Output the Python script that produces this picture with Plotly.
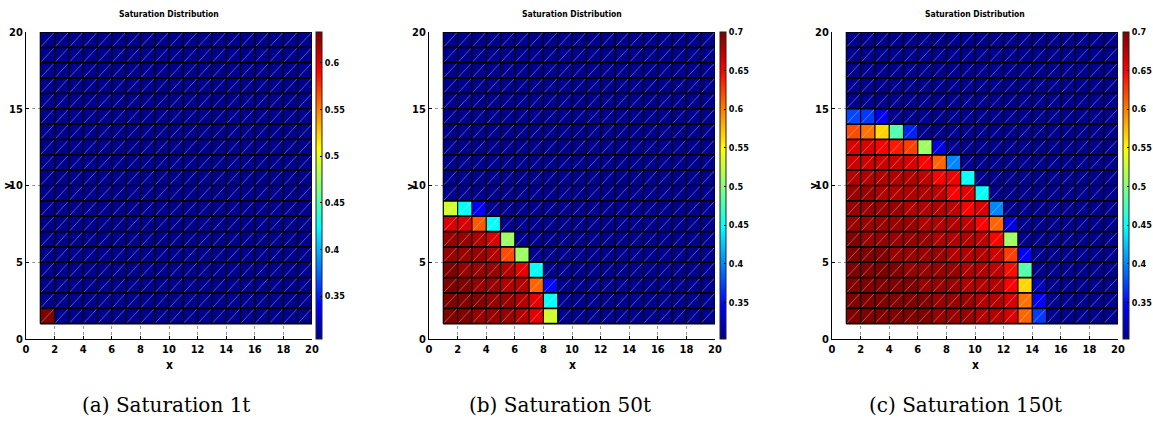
import plotly.graph_objects as go

W, H = 1153, 426

# ---------------- data ----------------
x_edges = [1, 2, 3, 4, 5, 6, 7, 8, 9, 10, 11, 12, 13, 14, 15, 16, 17, 18, 19, 20]
y_edges = [1, 2, 3, 4, 5, 6, 7, 8, 9, 10, 11, 12, 13, 14, 15, 16, 17, 18, 19, 20]

A = 0.304  # background saturation, panel (a)
B = 0.303  # background saturation, panels (b), (c)

# rows listed from bottom (y=1..2) to top (y=19..20)
sat_1t = [
    [0.633, A, A, A, A, A, A, A, A, A, A, A, A, A, A, A, A, A, A],
    [A, A, A, A, A, A, A, A, A, A, A, A, A, A, A, A, A, A, A],
    [A, A, A, A, A, A, A, A, A, A, A, A, A, A, A, A, A, A, A],
    [A, A, A, A, A, A, A, A, A, A, A, A, A, A, A, A, A, A, A],
    [A, A, A, A, A, A, A, A, A, A, A, A, A, A, A, A, A, A, A],
    [A, A, A, A, A, A, A, A, A, A, A, A, A, A, A, A, A, A, A],
    [A, A, A, A, A, A, A, A, A, A, A, A, A, A, A, A, A, A, A],
    [A, A, A, A, A, A, A, A, A, A, A, A, A, A, A, A, A, A, A],
    [A, A, A, A, A, A, A, A, A, A, A, A, A, A, A, A, A, A, A],
    [A, A, A, A, A, A, A, A, A, A, A, A, A, A, A, A, A, A, A],
    [A, A, A, A, A, A, A, A, A, A, A, A, A, A, A, A, A, A, A],
    [A, A, A, A, A, A, A, A, A, A, A, A, A, A, A, A, A, A, A],
    [A, A, A, A, A, A, A, A, A, A, A, A, A, A, A, A, A, A, A],
    [A, A, A, A, A, A, A, A, A, A, A, A, A, A, A, A, A, A, A],
    [A, A, A, A, A, A, A, A, A, A, A, A, A, A, A, A, A, A, A],
    [A, A, A, A, A, A, A, A, A, A, A, A, A, A, A, A, A, A, A],
    [A, A, A, A, A, A, A, A, A, A, A, A, A, A, A, A, A, A, A],
    [A, A, A, A, A, A, A, A, A, A, A, A, A, A, A, A, A, A, A],
    [A, A, A, A, A, A, A, A, A, A, A, A, A, A, A, A, A, A, A],
]

sat_50t = [
    [0.70, 0.70, 0.69, 0.69, 0.69, 0.68, 0.66, 0.53, B, B, B, B, B, B, B, B, B, B, B],
    [0.70, 0.70, 0.70, 0.69, 0.69, 0.68, 0.66, 0.45, B, B, B, B, B, B, B, B, B, B, B],
    [0.70, 0.70, 0.69, 0.69, 0.68, 0.68, 0.61, 0.35, B, B, B, B, B, B, B, B, B, B, B],
    [0.70, 0.69, 0.69, 0.69, 0.68, 0.66, 0.45, B, B, B, B, B, B, B, B, B, B, B, B],
    [0.69, 0.69, 0.69, 0.68, 0.62, 0.51, B, B, B, B, B, B, B, B, B, B, B, B, B],
    [0.69, 0.69, 0.68, 0.665, 0.51, B, B, B, B, B, B, B, B, B, B, B, B, B, B],
    [0.665, 0.665, 0.615, 0.45, B, B, B, B, B, B, B, B, B, B, B, B, B, B, B],
    [0.53, 0.45, 0.345, B, B, B, B, B, B, B, B, B, B, B, B, B, B, B, B],
    [B, B, B, B, B, B, B, B, B, B, B, B, B, B, B, B, B, B, B],
    [B, B, B, B, B, B, B, B, B, B, B, B, B, B, B, B, B, B, B],
    [B, B, B, B, B, B, B, B, B, B, B, B, B, B, B, B, B, B, B],
    [B, B, B, B, B, B, B, B, B, B, B, B, B, B, B, B, B, B, B],
    [B, B, B, B, B, B, B, B, B, B, B, B, B, B, B, B, B, B, B],
    [B, B, B, B, B, B, B, B, B, B, B, B, B, B, B, B, B, B, B],
    [B, B, B, B, B, B, B, B, B, B, B, B, B, B, B, B, B, B, B],
    [B, B, B, B, B, B, B, B, B, B, B, B, B, B, B, B, B, B, B],
    [B, B, B, B, B, B, B, B, B, B, B, B, B, B, B, B, B, B, B],
    [B, B, B, B, B, B, B, B, B, B, B, B, B, B, B, B, B, B, B],
    [B, B, B, B, B, B, B, B, B, B, B, B, B, B, B, B, B, B, B],
]

sat_150t = [
    [0.70, 0.70, 0.70, 0.70, 0.70, 0.70, 0.69, 0.69, 0.69, 0.68, 0.68, 0.665, 0.61, 0.37, B, B, B, B, B],
    [0.70, 0.70, 0.70, 0.70, 0.70, 0.70, 0.69, 0.69, 0.69, 0.68, 0.68, 0.665, 0.605, 0.345, B, B, B, B, B],
    [0.70, 0.70, 0.70, 0.70, 0.70, 0.69, 0.69, 0.69, 0.68, 0.68, 0.68, 0.65, 0.565, 0.32, B, B, B, B, B],
    [0.70, 0.70, 0.70, 0.70, 0.69, 0.69, 0.69, 0.69, 0.68, 0.68, 0.675, 0.645, 0.48, B, B, B, B, B, B],
    [0.70, 0.70, 0.70, 0.69, 0.69, 0.69, 0.69, 0.68, 0.68, 0.68, 0.67, 0.625, 0.345, B, B, B, B, B, B],
    [0.70, 0.69, 0.69, 0.69, 0.69, 0.69, 0.68, 0.68, 0.68, 0.675, 0.65, 0.51, B, B, B, B, B, B, B],
    [0.69, 0.69, 0.69, 0.69, 0.69, 0.68, 0.68, 0.68, 0.675, 0.65, 0.61, 0.335, B, B, B, B, B, B, B],
    [0.69, 0.69, 0.69, 0.69, 0.68, 0.68, 0.68, 0.675, 0.65, 0.665, 0.40, B, B, B, B, B, B, B, B],
    [0.69, 0.69, 0.68, 0.68, 0.68, 0.68, 0.675, 0.65, 0.66, 0.45, B, B, B, B, B, B, B, B, B],
    [0.68, 0.68, 0.68, 0.68, 0.68, 0.675, 0.65, 0.655, 0.45, B, B, B, B, B, B, B, B, B, B],
    [0.67, 0.67, 0.67, 0.67, 0.665, 0.65, 0.61, 0.40, B, B, B, B, B, B, B, B, B, B, B],
    [0.665, 0.665, 0.65, 0.64, 0.625, 0.51, 0.335, B, B, B, B, B, B, B, B, B, B, B, B],
    [0.62, 0.605, 0.565, 0.48, 0.36, B, B, B, B, B, B, B, B, B, B, B, B, B, B],
    [0.375, 0.37, 0.34, B, B, B, B, B, B, B, B, B, B, B, B, B, B, B, B],
    [B, B, B, B, B, B, B, B, B, B, B, B, B, B, B, B, B, B, B],
    [B, B, B, B, B, B, B, B, B, B, B, B, B, B, B, B, B, B, B],
    [B, B, B, B, B, B, B, B, B, B, B, B, B, B, B, B, B, B, B],
    [B, B, B, B, B, B, B, B, B, B, B, B, B, B, B, B, B, B, B],
    [B, B, B, B, B, B, B, B, B, B, B, B, B, B, B, B, B, B, B],
]

color_ranges = [(0.304, 0.633), (0.303, 0.700), (0.303, 0.700)]
cbar_ticks_a = [0.35, 0.4, 0.45, 0.5, 0.55, 0.6]
cbar_ticks_bc = [0.35, 0.4, 0.45, 0.5, 0.55, 0.6, 0.65, 0.7]
x_ticks = [0, 2, 4, 6, 8, 10, 12, 14, 16, 18, 20]
y_ticks = [0, 5, 10, 15, 20]
panel_title = "Saturation Distribution"
captions = ["(a) Saturation 1t", "(b) Saturation 50t", "(c) Saturation 150t"]

# ---------------- styling ----------------
jet = [
    [0.0, "rgb(0,0,143)"],
    [0.111, "rgb(0,0,255)"],
    [0.365, "rgb(0,255,255)"],
    [0.619, "rgb(255,255,0)"],
    [0.873, "rgb(255,0,0)"],
    [1.0, "rgb(128,0,0)"],
]
NARROW = "Liberation Sans Narrow, DejaVu Sans Condensed, Arial Narrow, sans-serif"
tick_font = dict(family=NARROW, size=11, color="black", weight="bold")

# pixel geometry
ax_x_px = [(26, 312), (429, 715), (832, 1118)]
ax_y_px = (32, 339)          # top, bottom (pixel rows)
cb_x_px = [316, 720, 1123]
cap_x_px = [80, 467, 867]

def px(x):
    return x / W

def py(y):
    return (H - y) / H

fig = go.Figure()
datasets = [sat_1t, sat_50t, sat_150t]
cb_ticks = [cbar_ticks_a, cbar_ticks_bc, cbar_ticks_bc]

def fmt(v):
    return ("%.2f" % v).rstrip("0").rstrip(".")

# line paths derived from grid edges
diag_x, diag_y = [], []
for j in range(len(y_edges) - 1):
    for i in range(len(x_edges) - 1):
        diag_x += [x_edges[i], x_edges[i + 1], None]
        diag_y += [y_edges[j], y_edges[j + 1], None]
hx, hy = [], []
for yv in y_edges:
    hx += [x_edges[0], x_edges[-1], None]
    hy += [yv, yv, None]
vx, vy = [], []
for xv in x_edges:
    vx += [xv, xv, None]
    vy += [y_edges[0], y_edges[-1], None]

for k in range(3):
    xa = "x" if k == 0 else f"x{k+1}"
    ya = "y" if k == 0 else f"y{k+1}"
    zmin, zmax = color_ranges[k]
    fig.add_trace(go.Heatmap(
        z=datasets[k], x=x_edges, y=y_edges, xaxis=xa, yaxis=ya,
        colorscale=jet, zmin=zmin, zmax=zmax, zsmooth=False, hoverinfo="skip",
        colorbar=dict(
            x=px(cb_x_px[k]), xanchor="left", xref="paper",
            y=py(ax_y_px[1]), yanchor="bottom", yref="paper",
            len=(ax_y_px[1] - ax_y_px[0]) / H, lenmode="fraction",
            thickness=6, thicknessmode="pixels", xpad=0, ypad=0,
            outlinewidth=1, outlinecolor="#222",
            tickmode="array", tickvals=cb_ticks[k],
            ticktext=[fmt(v) for v in cb_ticks[k]],
            ticks="inside", ticklen=2, tickcolor="black",
            tickfont=dict(family=NARROW, size=9, color="black", weight="bold"),
        ),
    ))
    fig.add_trace(go.Scatter(
        x=diag_x, y=diag_y, xaxis=xa, yaxis=ya, mode="lines",
        line=dict(color="rgba(255,255,255,0.42)", width=0.8),
        hoverinfo="skip", showlegend=False,
    ))
    fig.add_trace(go.Scatter(
        x=vx, y=vy, xaxis=xa, yaxis=ya, mode="lines",
        line=dict(color="black", width=1.2),
        hoverinfo="skip", showlegend=False,
    ))
    fig.add_trace(go.Scatter(
        x=hx, y=hy, xaxis=xa, yaxis=ya, mode="lines",
        line=dict(color="black", width=1.7),
        hoverinfo="skip", showlegend=False,
    ))

layout = dict(
    width=W, height=H, margin=dict(l=0, r=0, t=0, b=0, autoexpand=False),
    paper_bgcolor="white", plot_bgcolor="white", showlegend=False,
)
axis_common = dict(
    range=[0, 20], showline=True, linecolor="black", linewidth=1,
    ticks="inside", ticklen=3, tickcolor="black", zeroline=False,
    showgrid=True, gridcolor="#999999", griddash="dot", gridwidth=1,
    tickfont=tick_font, tickmode="array", fixedrange=True, automargin=False,
)
annotations = []
for k in range(3):
    xs = "" if k == 0 else str(k + 1)
    x0, x1 = ax_x_px[k]
    layout["xaxis" + xs] = dict(
        axis_common, domain=[px(x0), px(x1)], anchor="y" + xs, tickvals=x_ticks,
    )
    layout["yaxis" + xs] = dict(
        axis_common, domain=[py(ax_y_px[1]), py(ax_y_px[0])], anchor="x" + xs,
        tickvals=y_ticks,
    )
    cx = (x0 + x1) / 2
    annotations.append(dict(
        text=panel_title, x=px(cx), y=py(14), xref="paper", yref="paper",
        xanchor="center", yanchor="middle", showarrow=False,
        font=dict(family=NARROW, size=8.5, color="black", weight="bold"),
    ))
    annotations.append(dict(
        text="x", x=px(cx), y=py(365), xref="paper", yref="paper",
        xanchor="center", yanchor="middle", showarrow=False,
        font=dict(family=NARROW, size=12, color="black", weight="bold"),
    ))
    annotations.append(dict(
        text="y", x=px(x0 - 19), y=py(186), xref="paper", yref="paper",
        xanchor="center", yanchor="middle", showarrow=False, textangle=-90,
        font=dict(family=NARROW, size=11, color="black", weight="bold"),
    ))
    annotations.append(dict(
        text=captions[k], x=px(cap_x_px[k]), y=py(405), xref="paper", yref="paper",
        xanchor="left", yanchor="middle", showarrow=False,
        font=dict(family="DejaVu Serif, Liberation Serif, serif", size=20, color="black"),
    ))
layout["annotations"] = annotations
fig.update_layout(**layout)

fig.write_html("out.html")
